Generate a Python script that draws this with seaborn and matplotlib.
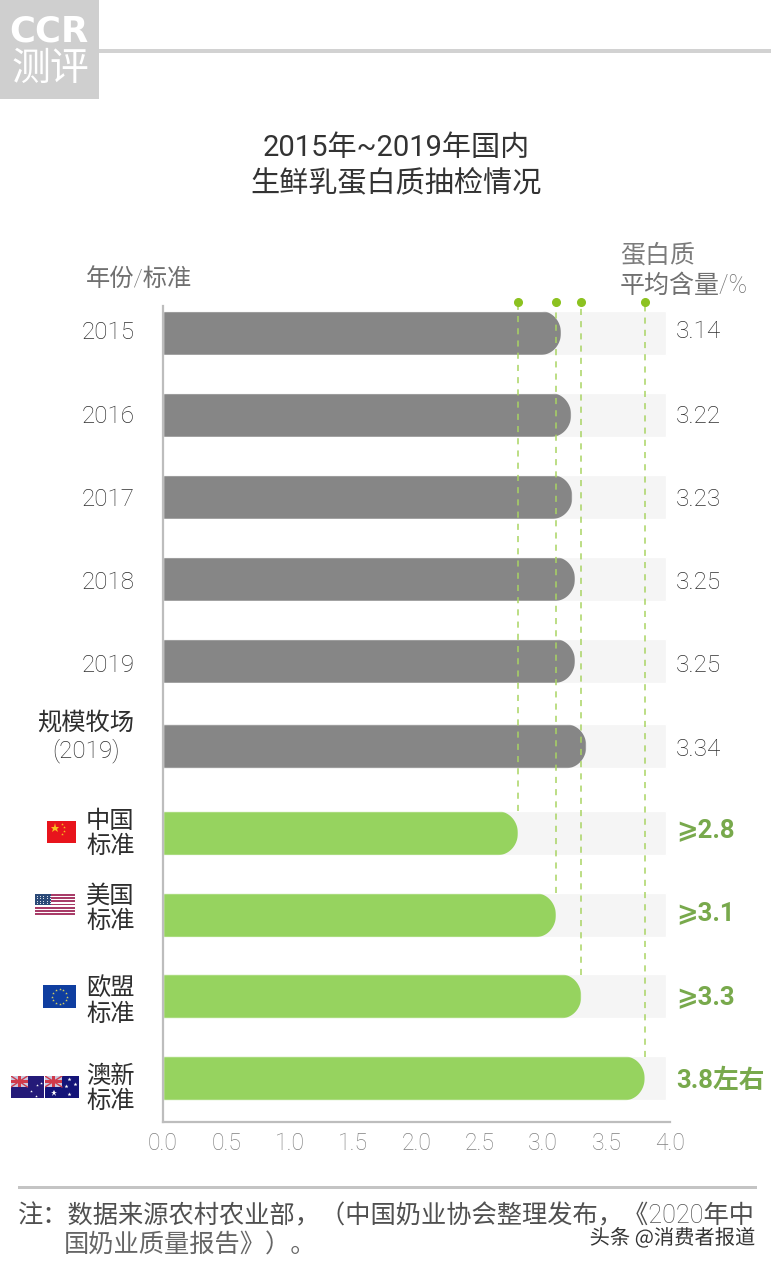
import numpy as np
import pandas as pd
import seaborn as sns
import matplotlib.pyplot as plt
from matplotlib.patches import PathPatch, Rectangle
from matplotlib.path import Path
import matplotlib.patheffects as pe

# values
row_labels = ['2015', '2016', '2017', '2018', '2019', '规模牧场\n(2019)',
              '中国\n标准', '美国\n标准', '欧盟\n标准', '澳新\n标准']
protein = [3.14, 3.22, 3.23, 3.25, 3.25, 3.34, 2.8, 3.1, 3.3, 3.8]
kinds = ['抽检'] * 6 + ['标准'] * 4
value_labels = ['3.14', '3.22', '3.23', '3.25', '3.25', '3.34', '⩾2.8', '⩾3.1', '⩾3.3', '3.8左右']
standards = [2.8, 3.1, 3.3, 3.8]
x_ticks = [0.0, 0.5, 1.0, 1.5, 2.0, 2.5, 3.0, 3.5, 4.0]

# rows are not evenly spaced in the original
row_pos = [0, 1, 2, 3, 4, 5.04, 6.10, 7.10, 8.09, 9.09]
label_shift = [-0.01, 0.02, 0.03, 0.04, 0.05, -0.11, 0.01, -0.08, 0.06, 0.13]
value_shift = [-0.02, 0.02, 0.03, 0.04, 0.06, 0.04, -0.04, -0.02, 0.01, 0.03]
track_end = 3.97

W, H = 771, 1263
GRAY, GREEN = '#868686', '#96d35f'
DOT, DASH = '#8cc220', '#a9d463'
THIN = ['Roboto', 'Noto Sans CJK SC', 'DejaVu Sans']

sns.set_style('white')
plt.rcParams['font.family'] = ['Noto Sans CJK SC', 'DejaVu Sans']

fig = plt.figure(figsize=(W / 100, H / 100), dpi=100)
ax = fig.add_axes([163 / W, 1 - 1122 / H, 507 / W, 816 / H])

df = pd.DataFrame({'row': row_pos, 'value': protein, 'kind': kinds, 'track': track_end})

sns.barplot(data=df, x='track', y='row', orient='y', native_scale=True, color='#f5f5f5',
            width=0.54, saturation=1, ax=ax, zorder=1)
n_track = len(ax.patches)
sns.barplot(data=df, x='value', y='row', orient='y', native_scale=True, hue='kind',
            palette={'抽检': GRAY, '标准': GREEN}, dodge=False, width=0.54, saturation=1,
            legend=False, ax=ax, zorder=2)

ax.set_xlim(0, 4)
ax.set_ylim((1122 - 333) / 82, (306 - 333) / 82)

# round the right end of each bar
t = np.linspace(-np.pi / 2, np.pi / 2, 40)
for bar in ax.patches[n_track:]:
    x0, y0, w, h = bar.get_x(), bar.get_y(), bar.get_width(), bar.get_height()
    if w == 0 or np.isnan(w):
        continue
    rx = 20 / 126.75
    ry = h / 2
    xs = x0 + w - rx + rx * np.cos(t)
    ys = y0 + h / 2 + ry * np.sin(t)
    verts = np.vstack([[x0 - 1, y0], np.column_stack([xs, ys]), [x0 - 1, y0 + h], [x0 - 1, y0]])
    bar.set_clip_path(PathPatch(Path(verts, closed=True), transform=ax.transData))

# dashed guides from the standards up to the dots
for val, row in zip(standards, row_pos[6:]):
    ax.plot([val, val], [row - 0.265, (302 - 333) / 82], color=DASH, lw=1.1, ls=(0, (4, 4)),
            zorder=3, clip_on=False)
    ax.plot([val], [(302 - 333) / 82], 'o', color=DOT, ms=5.5, zorder=4, clip_on=False)

sns.despine(ax=ax)
for side in ['left', 'bottom']:
    ax.spines[side].set_color('#bdbdbd')
    ax.spines[side].set_linewidth(1.6)

ax.set_xlabel('')
ax.set_ylabel('')
ax.set_yticks([])
ax.set_xticks(x_ticks, [f'{v:.1f}' for v in x_ticks])
ax.tick_params(axis='x', length=0, pad=7, labelsize=16.5, labelcolor='#808080')
for lab in ax.get_xticklabels():
    lab.set_fontfamily(THIN)
    lab.set_fontweight('light')

# row labels and values
for i, (lab, pos) in enumerate(zip(row_labels, row_pos)):
    ax.text(-0.225, pos + label_shift[i], lab, ha='right', va='center', ma='center',
            fontsize=17.5, family=THIN, fontweight='light', color='#2e2e2e', linespacing=1.16,
            clip_on=False)
    is_std = i >= 6
    ax.text(4.0 + 0.048, pos + value_shift[i], value_labels[i], ha='left', va='center',
            fontsize=18.5 if is_std else 17.5, family=THIN, fontweight='bold' if is_std else 'light',
            color='#78a94c' if is_std else '#2e2e2e', clip_on=False)


def ftext(x, y, s, **kw):
    return fig.text(x / W, 1 - (y + 2.5) / H, s, **kw)


def box(x, y, w, h, **kw):
    fig.add_artist(Rectangle((x / W, 1 - (y + h) / H), w / W, h / H,
                             transform=fig.transFigure, lw=0, **kw))


# header band and logo
box(0, 0, 99, 99, color='#cfcfcf', zorder=0)
box(99, 49, 672, 4, color='#d2d2d2', zorder=0)
ftext(49, 29, 'CCR', fontsize=25.5, family='DejaVu Sans', fontweight='bold', color='white',
      ha='center', va='center')
ftext(50, 66, '测评', fontsize=28, color='white', ha='center', va='center')

# titles
ftext(396, 146, '2015年~2019年国内', fontsize=21, family=THIN, color='#333333', ha='center', va='center')
ftext(396, 182, '生鲜乳蛋白质抽检情况', fontsize=21, color='#333333', ha='center', va='center')
ftext(86, 277, '年份/标准', fontsize=17.5, family=THIN, fontweight='light', color='#707070', va='center')
ftext(620, 253, '蛋白质', fontsize=18, color='#7c7c7c', va='center')
ftext(620, 283, '平均含量/%', fontsize=18, family=THIN, fontweight='light', color='#707070', va='center')

# footer
box(18, 1186, 739, 3, color='#c4c4c4', zorder=0)
ftext(18, 1214, '注：数据来源农村农业部，（中国奶业协会整理发布，《2020年中', fontsize=18.2, family=THIN,
      fontweight='light', color='#505050', va='center')
ftext(64, 1243, '国奶业质量报告》）。', fontsize=18.2, color='#666666', va='center')
ftext(755, 1236, '头条 @消费者报道', fontsize=14.6, color='#333333', ha='right', va='center',
      path_effects=[pe.withStroke(linewidth=2.5, foreground='white')], zorder=10)


def flag_ax(x, y, w, h, color):
    a = fig.add_axes([x / W, 1 - (y + h) / H, w / W, h / H])
    a.set_xlim(0, 1)
    a.set_ylim(1, 0)
    a.axis('off')
    a.add_patch(Rectangle((0, 0), 1, 1, color=color, lw=0))
    return a


def jack(a, w, h):
    a.add_patch(Rectangle((0, 0), w, h, color='#c9c9e0', lw=0))
    a.plot([0, w], [0, h], color='#d03a4a', lw=1)
    a.plot([0, w], [h, 0], color='#d03a4a', lw=1)
    a.add_patch(Rectangle((w * 0.42, 0), w * 0.16, h, color='#d03a4a', lw=0))
    a.add_patch(Rectangle((0, h * 0.4), w, h * 0.2, color='#d03a4a', lw=0))


# China
a = flag_ax(47, 821, 29, 22, '#e8141c')
a.plot([0.26], [0.3], marker='*', color='#f8c020', ms=6.5, mew=0)
for sx, sy in [(0.5, 0.12), (0.6, 0.27), (0.6, 0.45), (0.5, 0.58)]:
    a.plot([sx], [sy], marker='*', color='#f8c020', ms=2, mew=0)

# USA
a = flag_ax(35, 894, 40, 21, 'white')
for k in range(7):
    a.add_patch(Rectangle((0, k * 2 / 13), 1, 1 / 13, color='#a83c68', lw=0))
a.add_patch(Rectangle((0, 0), 0.4, 0.54, color='#2c4a78', lw=0))
for sx in np.arange(0.05, 0.4, 0.08):
    a.plot([sx] * 4, [0.08, 0.2, 0.32, 0.44], ls='', marker='.', color='white', ms=1.5, mew=0)

# EU
a = flag_ax(43, 985, 33, 23, '#0f3ea0')
for k in range(12):
    a.plot([0.5 + 0.24 * np.cos(k * np.pi / 6)], [0.5 + 0.34 * np.sin(k * np.pi / 6)],
           marker='*', color='#d8d060', ms=2, mew=0)

# Australia / New Zealand
a = flag_ax(11, 1076, 33, 22, '#241a78')
jack(a, 0.5, 0.5)
for sx, sy in [(0.6, 0.7), (0.8, 0.4), (0.92, 0.3), (0.75, 0.9)]:
    a.plot([sx], [sy], marker='*', color='white', ms=2, mew=0)
a = flag_ax(45, 1076, 34, 22, '#141478')
jack(a, 0.5, 0.5)
a.plot([0.25], [0.78], marker='*', color='white', ms=5, mew=0)
for sx, sy in [(0.72, 0.15), (0.88, 0.38), (0.72, 0.82), (0.62, 0.45)]:
    a.plot([sx], [sy], marker='*', color='white', ms=3, mew=0)

fig.savefig('out.png', dpi=100)
